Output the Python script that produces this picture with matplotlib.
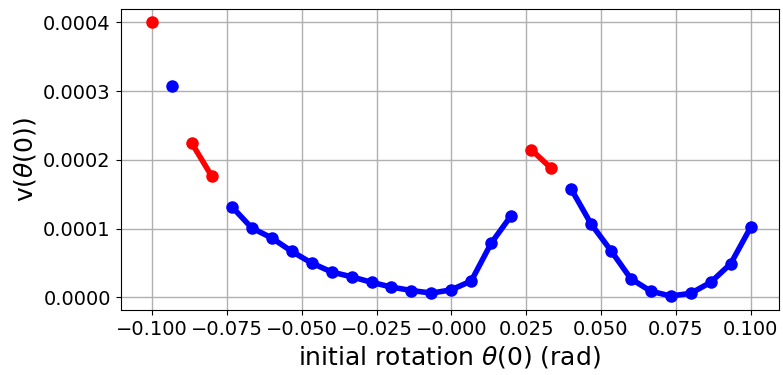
import numpy as np
import matplotlib
matplotlib.use("Agg")
import matplotlib.pyplot as plt

# initial rotation samples (rad)
theta0 = np.linspace(-0.1, 0.1, 31)

# v(theta(0)) values, in units of 1e-4
v_vals = [4.00, 3.08, 2.24, 1.76, 1.32, 1.01, 0.865, 0.67, 0.50, 0.37,
          0.30, 0.22, 0.15, 0.10, 0.063, 0.11, 0.24, 0.79, 1.19, 2.15,
          1.88, 1.58, 1.07, 0.68, 0.27, 0.09, 0.02, 0.06, 0.22, 0.49, 1.02]

# which samples belong to the red (diverged) set
is_red = [1, 0, 1, 1, 0, 0, 0, 0, 0, 0,
          0, 0, 0, 0, 0, 0, 0, 0, 0, 1,
          1, 0, 0, 0, 0, 0, 0, 0, 0, 0, 0]

v = np.array(v_vals) * 1e-4
red = np.array(is_red, dtype=bool)

v_red = np.where(red, v, np.nan)
v_blue = np.where(~red, v, np.nan)

fig = plt.figure(figsize=(7.83, 3.75), dpi=100)
ax = fig.add_axes([0.154, 0.173, 0.841, 0.803])

ax.plot(theta0, v_red, "o-", color="red", lw=4, ms=8)
ax.plot(theta0, v_blue, "o-", color="blue", lw=4, ms=8)

ax.grid(True, color="#b0b0b0", lw=1)
ax.set_xlim(-0.1105, 0.1095)
ax.set_ylim(-0.0000185, 0.0004195)
xt = np.arange(-0.1, 0.1001, 0.025)
yt = np.arange(0, 0.00041, 0.0001)
ax.set_xticks(xt)
ax.set_yticks(yt)
ax.set_yticklabels([f"{t:.4f}" for t in yt])
ax.set_xticklabels([f"{t:.3f}".replace("-", "\u2212") for t in xt])
ax.tick_params(labelsize=14)
ax.set_xlabel(r"initial rotation $\theta$(0) (rad)", fontsize=18)
ax.set_ylabel(r"v($\theta$(0))", fontsize=18)

fig.savefig("out.png", dpi=100)
